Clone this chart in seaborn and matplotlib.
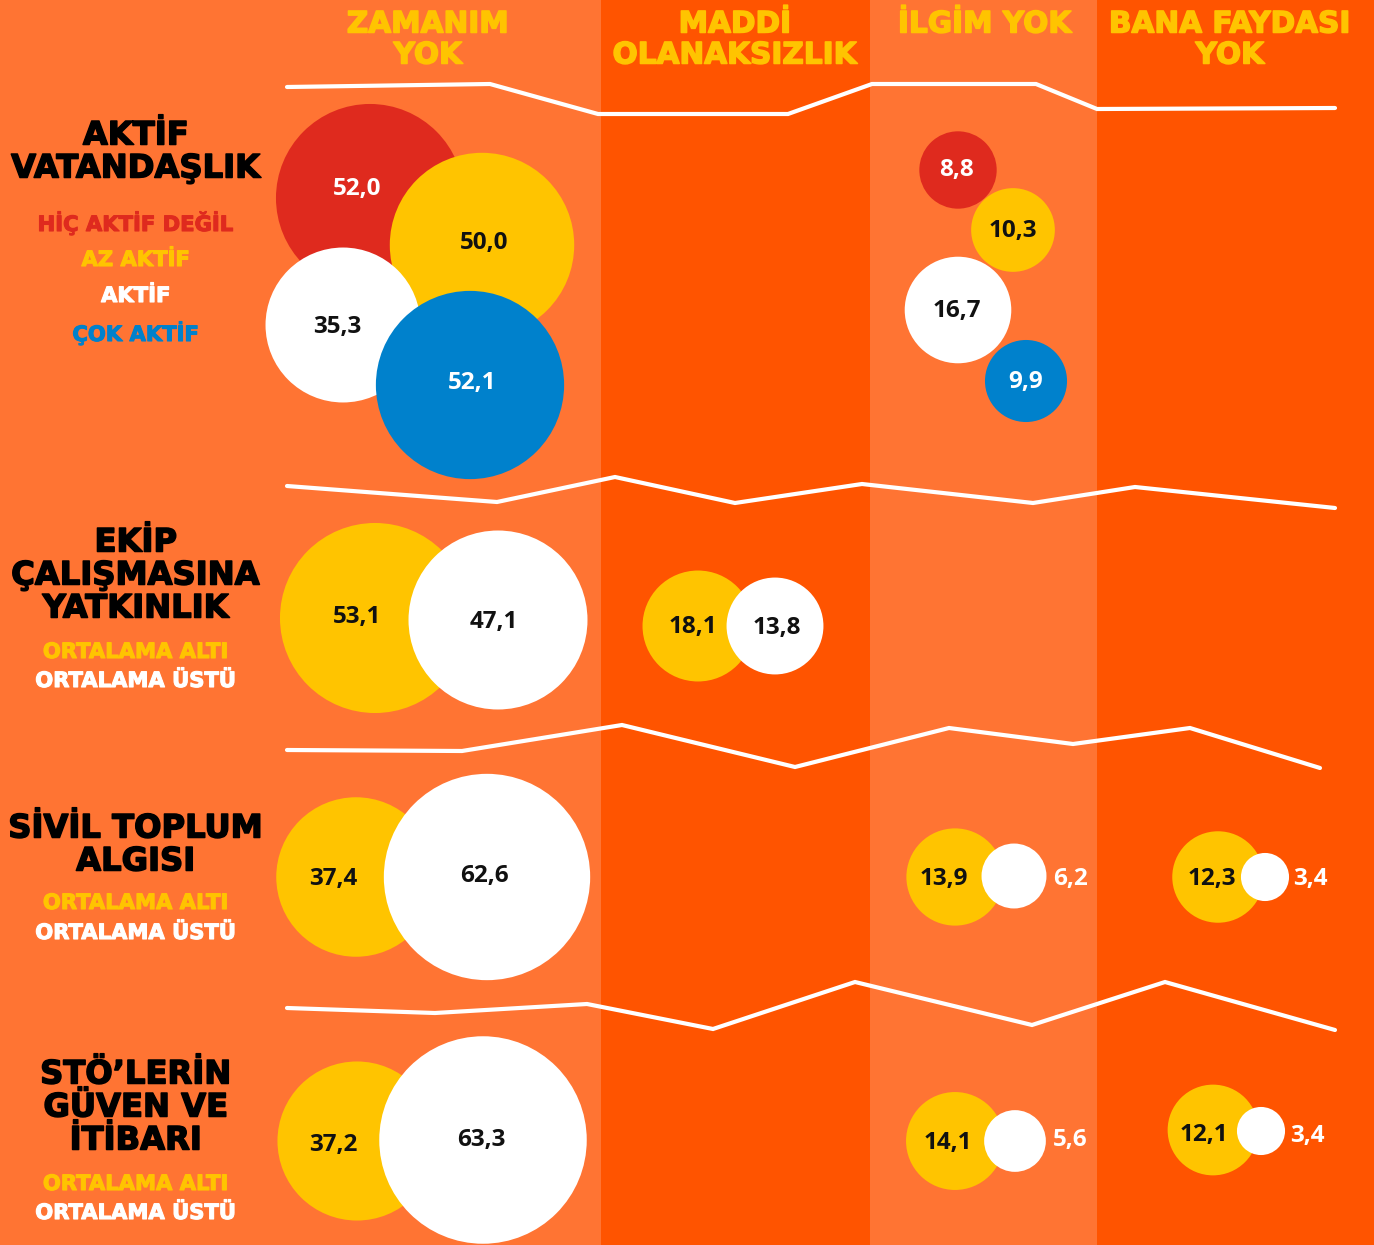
import numpy as np
import pandas as pd
import matplotlib
matplotlib.use("Agg")
import matplotlib.pyplot as plt
import matplotlib.patheffects as pe
import seaborn as sns

# ---- data -------------------------------------------------------------
columns = ["ZAMANIM\nYOK", "MADDİ\nOLANAKSIZLIK", "İLGİM YOK", "BANA FAYDASI\nYOK"]
row_titles = ["AKTİF\nVATANDAŞLIK", "EKİP\nÇALIŞMASINA\nYATKINLIK",
              "SİVİL TOPLUM\nALGISI", "STÖ’LERİN\nGÜVEN VE\nİTİBARI"]
activity_levels = ["HİÇ AKTİF DEĞİL", "AZ AKTİF", "AKTİF", "ÇOK AKTİF"]
average_levels = ["ORTALAMA ALTI", "ORTALAMA ÜSTÜ"]

aktif_zaman = [52.0, 50.0, 35.3, 52.1]
aktif_ilgi = [8.8, 10.3, 16.7, 9.9]
ekip_zaman = [53.1, 47.1]
ekip_maddi = [18.1, 13.8]
sivil_zaman = [37.4, 62.6]
sivil_ilgi = [13.9, 6.2]
sivil_fayda = [12.3, 3.4]
sto_zaman = [37.2, 63.3]
sto_ilgi = [14.1, 5.6]
sto_fayda = [12.1, 3.4]

# ---- styling ----------------------------------------------------------
LIGHT = "#FF7433"
DARK = "#FF5400"
YELLOW = "#FFC400"
RED = "#DF2A1E"
BLUE = "#0081CC"
WHITE = "#FFFFFF"
INK = "#111111"
level_colors = {"HİÇ AKTİF DEĞİL": RED, "AZ AKTİF": YELLOW, "AKTİF": WHITE,
                "ÇOK AKTİF": BLUE, "ORTALAMA ALTI": YELLOW, "ORTALAMA ÜSTÜ": WHITE}

W, H = 1374, 1245
bands = [(0, 601, LIGHT), (601, 870, DARK), (870, 1097, LIGHT), (1097, W, DARK)]
header_x = [428, 735, 985, 1230]
header_y = 24
row_title_y = [136, 543, 829, 1075]
legend_y = [[223, 260, 296, 333], [652, 681], [903, 933], [1184, 1213]]

# wave separators (canvas pixels)
waves = [
    [(287, 87), (490, 84), (598, 114), (788, 114), (872, 84), (1036, 84), (1097, 109), (1335, 108)],
    [(287, 486), (497, 502), (615, 477), (735, 503), (862, 484), (1033, 503), (1135, 487), (1335, 508)],
    [(287, 750), (462, 751), (622, 725), (795, 767), (949, 728), (1073, 744), (1190, 728), (1320, 768)],
    [(287, 1008), (435, 1013), (587, 1004), (713, 1029), (855, 982), (1032, 1025), (1165, 982), (1335, 1030)],
]

# bubble clusters: (values, levels, centres, label positions, outside-label flags)
clusters = [
    (aktif_zaman, activity_levels,
     [(370, 198), (482, 245), (343, 325), (470, 385)],
     [(357, 187), (484, 241), (337, 325), (472, 381)], [0, 0, 0, 0]),
    (aktif_ilgi, activity_levels,
     [(958, 170), (1013, 230), (958, 310), (1026, 381)],
     [(956, 168), (1013, 229), (957, 309), (1026, 380)], [0, 0, 0, 0]),
    (ekip_zaman, average_levels, [(375, 618), (498, 620)], [(357, 615), (494, 620)], [0, 0]),
    (ekip_maddi, average_levels, [(698, 626), (775, 626)], [(693, 625), (777, 626)], [0, 0]),
    (sivil_zaman, average_levels, [(356, 877), (487, 877)], [(333, 877), (484, 874)], [0, 0]),
    (sivil_ilgi, average_levels, [(955, 877), (1014, 876)], [(944, 877), (1070, 877)], [0, 1]),
    (sivil_fayda, average_levels, [(1218, 877), (1265, 877)], [(1212, 877), (1310, 877)], [0, 1]),
    (sto_zaman, average_levels, [(357, 1141), (483, 1140)], [(333, 1143), (481, 1138)], [0, 0]),
    (sto_ilgi, average_levels, [(955, 1141), (1015, 1141)], [(948, 1141), (1070, 1138)], [0, 1]),
    (sto_fayda, average_levels, [(1213, 1130), (1261, 1131)], [(1204, 1133), (1307, 1134)], [0, 1]),
]

records = []
for vals, levels, centres, lpos, outside in clusters:
    for v, lev, (cx, cy), (lx, ly), out in zip(vals, levels, centres, lpos, outside):
        records.append(dict(value=v, level=lev, x=cx, y=cy, lx=lx, ly=ly, outside=out))
df = pd.DataFrame(records)

# ---- figure -----------------------------------------------------------
sns.set_theme(style="white")
plt.rcParams["font.family"] = ["DejaVu Sans"]
fig = plt.figure(figsize=(W / 100, H / 100), dpi=100)
ax = fig.add_axes([0, 0, 1, 1])
ax.set_xlim(0, W)
ax.set_ylim(H, 0)
ax.axis("off")

for x0, x1, c in bands:
    ax.axvspan(x0, x1, color=c, lw=0, zorder=0)


def heavy(color, w=1.1):
    # thicken the bold face so the display type reads as extra-bold
    return [pe.Stroke(linewidth=w, foreground=color), pe.Normal()]


def stacked(x, y, text, pitch, color, **kw):
    for i, line in enumerate(text.split("\n")):
        ax.text(x, y + i * pitch, line, ha="center", va="center", color=color,
                path_effects=heavy(color), **kw)


head_font = dict(family="DejaVu Sans", fontweight="bold")
for x, name in zip(header_x, columns):
    stacked(x, header_y, name, 31, YELLOW, fontsize=21.3, **head_font)

for title, ty in zip(row_titles, row_title_y):
    stacked(136, ty, title, 33, "#000000", fontsize=23.2, **head_font)

legend_sets = [activity_levels, average_levels, average_levels, average_levels]
for labels, ys in zip(legend_sets, legend_y):
    for lab, y in zip(labels, ys):
        ax.text(136, y, lab, ha="center", va="center", color=level_colors[lab],
                fontsize=15.2, path_effects=heavy(level_colors[lab], 0.8), **head_font)

for pts in waves:
    wdf = pd.DataFrame(pts, columns=["x", "y"])
    sns.lineplot(data=wdf, x="x", y="y", sort=False, estimator=None, ax=ax,
                 color=WHITE, lw=3.0, solid_capstyle="round", solid_joinstyle="miter",
                 zorder=2)

# bubble area proportional to value: radius = 13.04 px * sqrt(value)
px_per_sqrt = 13.04
s_per_unit = (2 * px_per_sqrt * 72 / 100) ** 2
vmax = df["value"].max()
sns.scatterplot(data=df, x="x", y="y", hue="level", palette=level_colors,
                size="value", size_norm=(0, vmax), sizes=(0, s_per_unit * vmax),
                linewidth=0, edgecolor="none", alpha=1, legend=False, ax=ax, zorder=3)
ax.set_xlim(0, W)
ax.set_ylim(H, 0)
ax.set_xlabel("")
ax.set_ylabel("")

for _, r in df.iterrows():
    txt = f"{r['value']:.1f}".replace(".", ",")
    if r["outside"]:
        col = WHITE
    elif r["level"] in ("HİÇ AKTİF DEĞİL", "ÇOK AKTİF"):
        col = WHITE
    else:
        col = INK
    ax.text(r["lx"], r["ly"] + 2, txt, ha="center", va="center", color=col,
            fontsize=17.5, family="Open Sans", fontweight="bold", zorder=4)

fig.savefig("out.png", dpi=100)
